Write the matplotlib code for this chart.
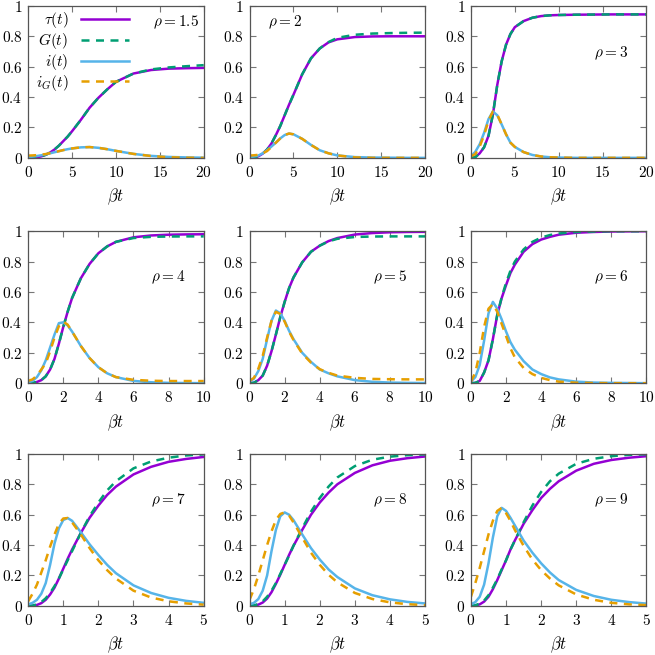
import matplotlib
matplotlib.use("Agg")
import matplotlib.pyplot as plt
from matplotlib.ticker import FuncFormatter

plt.rcParams['mathtext.fontset'] = 'cm'
plt.rcParams['font.family'] = ['DejaVu Serif']

# ==========================
# DATA
# ==========================
rhos = ["1.5", "2", "3", "4", "5", "6", "7", "8", "9"]

t1 = [0, 0.5, 1, 1.5, 2, 2.5, 3, 3.5, 4, 4.5, 5, 6, 7, 8, 9, 10, 12, 14, 16, 18, 20]
t2 = [0, 0.25, 0.5, 0.75, 1, 1.25, 1.5, 1.75, 2, 2.25, 2.5, 3, 3.5, 4, 4.5, 5, 6, 7, 8, 9, 10]
t3 = [0, 0.125, 0.25, 0.375, 0.5, 0.625, 0.75, 0.875, 1, 1.125, 1.25, 1.5, 1.75, 2, 2.25, 2.5, 3, 3.5, 4, 4.5, 5]

# rho = 1.5
tau_15 = [0, 0.001, 0.004, 0.01, 0.02, 0.035, 0.055, 0.08, 0.11, 0.14, 0.175, 0.25, 0.33, 0.395, 0.45, 0.5, 0.555, 0.578, 0.587, 0.59, 0.592]
G_15 = [0, 0.001, 0.004, 0.01, 0.02, 0.035, 0.055, 0.08, 0.11, 0.14, 0.175, 0.25, 0.33, 0.395, 0.45, 0.5, 0.555, 0.582, 0.595, 0.603, 0.61]
i_15 = [0.005, 0.008, 0.012, 0.017, 0.023, 0.03, 0.037, 0.044, 0.051, 0.057, 0.062, 0.069, 0.071, 0.066, 0.057, 0.046, 0.026, 0.013, 0.006, 0.003, 0.001]
iG_15 = [0.015, 0.016, 0.018, 0.021, 0.025, 0.031, 0.037, 0.044, 0.051, 0.057, 0.062, 0.069, 0.071, 0.066, 0.057, 0.046, 0.026, 0.012, 0.004, 0.001, 0.0]

# rho = 2
tau_2 = [0, 0.003, 0.01, 0.028, 0.055, 0.095, 0.15, 0.21, 0.28, 0.35, 0.415, 0.55, 0.655, 0.72, 0.76, 0.78, 0.795, 0.799, 0.8, 0.8, 0.8]
G_2 = [0, 0.003, 0.01, 0.028, 0.055, 0.095, 0.15, 0.21, 0.28, 0.35, 0.415, 0.55, 0.655, 0.72, 0.762, 0.79, 0.81, 0.818, 0.821, 0.823, 0.824]
i_2 = [0.005, 0.009, 0.015, 0.03, 0.05, 0.075, 0.1, 0.128, 0.15, 0.16, 0.155, 0.125, 0.085, 0.05, 0.03, 0.016, 0.005, 0.002, 0.001, 0, 0]
iG_2 = [0.015, 0.017, 0.02, 0.03, 0.045, 0.072, 0.1, 0.128, 0.15, 0.16, 0.155, 0.125, 0.085, 0.05, 0.03, 0.016, 0.003, 0, 0, 0, 0]

# rho = 3
tau_3 = [0, 0.005, 0.03, 0.07, 0.145, 0.285, 0.48, 0.635, 0.745, 0.815, 0.86, 0.9, 0.922, 0.933, 0.938, 0.94, 0.942, 0.943, 0.944, 0.944, 0.944]
G_3 = [0, 0.005, 0.03, 0.07, 0.145, 0.285, 0.48, 0.635, 0.745, 0.815, 0.86, 0.9, 0.922, 0.933, 0.938, 0.94, 0.942, 0.943, 0.944, 0.944, 0.944]
i_3 = [0.01, 0.04, 0.09, 0.165, 0.255, 0.305, 0.28, 0.22, 0.155, 0.1, 0.072, 0.038, 0.019, 0.009, 0.004, 0.002, 0, 0, 0, 0, 0]
iG_3 = [0.01, 0.025, 0.075, 0.15, 0.245, 0.305, 0.285, 0.22, 0.155, 0.1, 0.072, 0.038, 0.019, 0.009, 0.004, 0.002, 0, 0, 0, 0, 0]

# rho = 4
tau_4 = [0, 0.002, 0.008, 0.02, 0.045, 0.09, 0.16, 0.26, 0.37, 0.47, 0.56, 0.69, 0.785, 0.855, 0.9, 0.93, 0.96, 0.972, 0.977, 0.979, 0.98]
G_4 = [0, 0.002, 0.008, 0.02, 0.045, 0.09, 0.16, 0.26, 0.37, 0.47, 0.56, 0.69, 0.785, 0.855, 0.9, 0.93, 0.955, 0.963, 0.965, 0.966, 0.966]
i_4 = [0.005, 0.015, 0.04, 0.085, 0.15, 0.235, 0.32, 0.395, 0.4, 0.38, 0.34, 0.245, 0.165, 0.105, 0.065, 0.04, 0.015, 0.006, 0.002, 0.001, 0]
iG_4 = [0.015, 0.025, 0.05, 0.09, 0.13, 0.21, 0.3, 0.375, 0.405, 0.385, 0.34, 0.245, 0.165, 0.105, 0.065, 0.04, 0.022, 0.016, 0.014, 0.014, 0.014]

# rho = 5
tau_5 = [0, 0.003, 0.02, 0.05, 0.115, 0.21, 0.32, 0.435, 0.535, 0.625, 0.695, 0.795, 0.865, 0.905, 0.935, 0.955, 0.978, 0.988, 0.993, 0.995, 0.996]
G_5 = [0, 0.003, 0.02, 0.05, 0.115, 0.21, 0.32, 0.435, 0.535, 0.625, 0.695, 0.795, 0.865, 0.905, 0.933, 0.95, 0.962, 0.965, 0.966, 0.966, 0.966]
i_5 = [0.01, 0.03, 0.08, 0.16, 0.29, 0.41, 0.478, 0.46, 0.41, 0.345, 0.29, 0.2, 0.14, 0.09, 0.065, 0.045, 0.02, 0.009, 0.004, 0.002, 0.001]
iG_5 = [0.015, 0.035, 0.095, 0.18, 0.3, 0.41, 0.47, 0.455, 0.405, 0.34, 0.285, 0.195, 0.135, 0.092, 0.068, 0.05, 0.035, 0.028, 0.026, 0.025, 0.025]

# rho = 6
tau_6 = [0, 0.002, 0.015, 0.07, 0.15, 0.29, 0.45, 0.56, 0.645, 0.725, 0.78, 0.865, 0.915, 0.945, 0.963, 0.977, 0.99, 0.995, 0.998, 0.999, 1.0]
G_6 = [0, 0.002, 0.015, 0.07, 0.15, 0.29, 0.45, 0.565, 0.66, 0.74, 0.8, 0.88, 0.93, 0.958, 0.975, 0.985, 0.995, 0.998, 1.0, 1.0, 1.0]
i_6 = [0.01, 0.04, 0.12, 0.28, 0.46, 0.535, 0.49, 0.42, 0.34, 0.27, 0.22, 0.145, 0.09, 0.06, 0.038, 0.025, 0.01, 0.004, 0.002, 0.001, 0]
iG_6 = [0.01, 0.07, 0.2, 0.37, 0.49, 0.52, 0.47, 0.39, 0.31, 0.23, 0.17, 0.1, 0.06, 0.035, 0.02, 0.01, 0.003, 0.001, 0, 0, 0]

# rho = 7
tau_7 = [0, 0.001, 0.006, 0.018, 0.04, 0.075, 0.12, 0.18, 0.245, 0.31, 0.37, 0.48, 0.58, 0.66, 0.73, 0.785, 0.865, 0.915, 0.948, 0.967, 0.98]
G_7 = [0, 0.002, 0.01, 0.025, 0.05, 0.085, 0.13, 0.18, 0.24, 0.3, 0.36, 0.48, 0.59, 0.68, 0.76, 0.82, 0.905, 0.95, 0.975, 0.99, 0.997]
i_7 = [0.01, 0.02, 0.04, 0.08, 0.15, 0.27, 0.41, 0.51, 0.565, 0.578, 0.56, 0.485, 0.405, 0.335, 0.27, 0.215, 0.135, 0.085, 0.053, 0.033, 0.02]
iG_7 = [0.03, 0.08, 0.14, 0.22, 0.3, 0.39, 0.47, 0.54, 0.575, 0.578, 0.55, 0.47, 0.38, 0.3, 0.235, 0.18, 0.1, 0.055, 0.03, 0.016, 0.008]

# rho = 8
tau_8 = [0, 0.002, 0.008, 0.022, 0.048, 0.09, 0.145, 0.205, 0.27, 0.335, 0.395, 0.5, 0.6, 0.68, 0.745, 0.8, 0.875, 0.925, 0.955, 0.972, 0.983]
G_8 = [0, 0.003, 0.012, 0.03, 0.06, 0.1, 0.15, 0.21, 0.27, 0.33, 0.395, 0.51, 0.62, 0.71, 0.785, 0.845, 0.92, 0.962, 0.982, 0.992, 0.997]
i_8 = [0.01, 0.02, 0.045, 0.1, 0.2, 0.36, 0.5, 0.59, 0.615, 0.6, 0.565, 0.47, 0.38, 0.305, 0.24, 0.19, 0.115, 0.07, 0.043, 0.026, 0.016]
iG_8 = [0.04, 0.11, 0.2, 0.3, 0.4, 0.49, 0.565, 0.605, 0.615, 0.595, 0.55, 0.45, 0.35, 0.27, 0.205, 0.155, 0.085, 0.045, 0.023, 0.011, 0.005]

# rho = 9
tau_9 = [0, 0.002, 0.01, 0.028, 0.06, 0.11, 0.17, 0.235, 0.3, 0.37, 0.43, 0.54, 0.63, 0.71, 0.77, 0.82, 0.89, 0.935, 0.96, 0.975, 0.985]
G_9 = [0, 0.004, 0.015, 0.035, 0.07, 0.12, 0.175, 0.24, 0.3, 0.37, 0.43, 0.55, 0.66, 0.75, 0.82, 0.87, 0.935, 0.968, 0.985, 0.994, 0.998]
i_9 = [0.01, 0.025, 0.06, 0.14, 0.28, 0.45, 0.59, 0.645, 0.625, 0.58, 0.53, 0.43, 0.35, 0.28, 0.22, 0.17, 0.105, 0.065, 0.04, 0.025, 0.015]
iG_9 = [0.06, 0.15, 0.25, 0.36, 0.47, 0.56, 0.625, 0.645, 0.61, 0.56, 0.5, 0.395, 0.305, 0.235, 0.18, 0.135, 0.075, 0.04, 0.02, 0.01, 0.005]

times = [t1, t1, t1, t2, t2, t2, t3, t3, t3]
taus = [tau_15, tau_2, tau_3, tau_4, tau_5, tau_6, tau_7, tau_8, tau_9]
Gs = [G_15, G_2, G_3, G_4, G_5, G_6, G_7, G_8, G_9]
infs = [i_15, i_2, i_3, i_4, i_5, i_6, i_7, i_8, i_9]
iGs = [iG_15, iG_2, iG_3, iG_4, iG_5, iG_6, iG_7, iG_8, iG_9]

xmax = [20, 20, 20, 10, 10, 10, 5, 5, 5]
xstep = [5, 5, 5, 2, 2, 2, 1, 1, 1]

# rho label position in axes fraction
label_pos = [(0.84, 0.895), (0.20, 0.895), (0.80, 0.69),
             (0.80, 0.70), (0.80, 0.70), (0.80, 0.70),
             (0.80, 0.695), (0.80, 0.695), (0.80, 0.695)]

# ==========================
# FIGURE
# ==========================
c_tau = '#9400D3'
c_G = '#009E73'
c_i = '#56B4E9'
c_iG = '#E69F00'
lw = 1.8
dash = (3.2, 2.6)

fig = plt.figure(figsize=(6.55, 6.55), dpi=100)

lefts = [0.043, 0.381, 0.719]
bottoms = [0.759, 0.415, 0.075]
w, h = 0.268, 0.232

fmt = FuncFormatter(lambda v, p: f'${v:g}$')

for k in range(9):
    r, c = divmod(k, 3)
    ax = fig.add_axes([lefts[c], bottoms[r], w, h])
    t = times[k]

    ax.plot(t, taus[k], color=c_tau, lw=lw, label=r'$\tau(t)$')
    ax.plot(t, Gs[k], color=c_G, lw=lw, dashes=dash, label=r'$G(t)$')
    ax.plot(t, infs[k], color=c_i, lw=lw, label=r'$i(t)$')
    ax.plot(t, iGs[k], color=c_iG, lw=lw, dashes=dash, label=r'$i_G(t)$')

    ax.set_xlim(0, xmax[k])
    ax.set_ylim(0, 1)
    ax.set_xticks(range(0, xmax[k] + 1, xstep[k]))
    ax.set_yticks([0, 0.2, 0.4, 0.6, 0.8, 1])
    ax.xaxis.set_major_formatter(fmt)
    ax.yaxis.set_major_formatter(fmt)
    ax.tick_params(direction='in', top=True, right=True, length=4,
                   color='#777777', labelsize=11)
    ax.tick_params(axis='x', pad=5)
    ax.tick_params(axis='y', pad=4)
    for s in ax.spines.values():
        s.set_color('#555555')
        s.set_linewidth(0.9)

    ax.set_xlabel(r'$\beta t$', fontsize=12, labelpad=5)
    ax.text(label_pos[k][0], label_pos[k][1], r'$\rho = %s$' % rhos[k],
            transform=ax.transAxes, ha='center', va='center', fontsize=11)

    if k == 0:
        ax.legend(loc='upper left', markerfirst=False, frameon=False,
                  fontsize=11, handlelength=3.2, handletextpad=0.8,
                  labelspacing=0.05, borderaxespad=0.1,
                  bbox_to_anchor=(0.0, 1.02))

plt.savefig('out.png', dpi=100)
